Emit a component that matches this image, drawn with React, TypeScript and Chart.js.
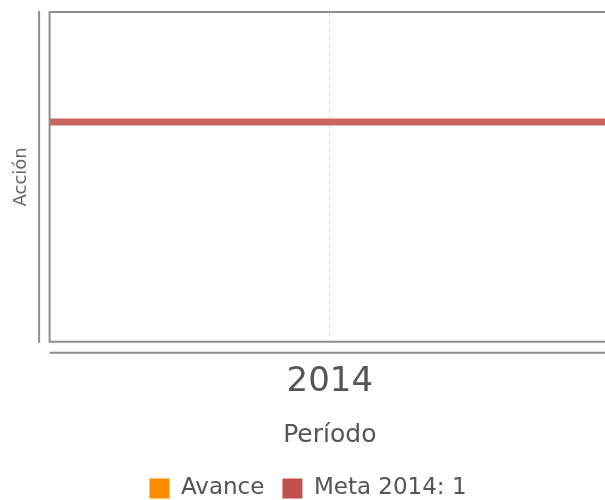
import React, { useEffect, useRef } from "react";
import { Chart, registerables } from "chart.js";

Chart.register(...registerables);

const periods = ["2014"];
const avanceValues = [0];
const metaValues = [1];
const seriesNames = ["Avance", "Meta 2014: 1"];
const yMin = 0;
const yMax = 1.5;

const FONT = "'DejaVu Sans', sans-serif";

const framePlugin = {
  id: "frame",
  afterDatasetsDraw(chart: any) {
    const { ctx, chartArea } = chart;
    const { left, top, right, bottom } = chartArea;
    ctx.save();
    ctx.strokeStyle = "#8e8e8e";
    ctx.lineWidth = 2;
    ctx.beginPath();
    // plot frame
    ctx.moveTo(right + 10, top);
    ctx.lineTo(left, top);
    ctx.lineTo(left, bottom);
    ctx.lineTo(right + 10, bottom);
    // detached axis lines
    ctx.moveTo(left - 10.5, top - 1);
    ctx.lineTo(left - 10.5, bottom + 1);
    ctx.moveTo(left, bottom + 11);
    ctx.lineTo(right + 10, bottom + 11);
    ctx.stroke();
    ctx.restore();
  },
};

export default function App() {
  const ref = useRef<HTMLCanvasElement | null>(null);
  useEffect(() => {
    if (!ref.current) return;
    const metaLine = metaValues.map((v) => [
      { x: 0, y: v },
      { x: 1, y: v },
    ])[0];
    const chart = new Chart(ref.current, {
      type: "bar",
      data: {
        labels: periods,
        datasets: [
          {
            label: seriesNames[0],
            data: avanceValues,
            backgroundColor: "#ff8c00",
            borderWidth: 0,
            xAxisID: "x",
            yAxisID: "y",
          },
          {
            type: "line",
            label: seriesNames[1],
            data: metaLine as any,
            borderColor: "#cc6461",
            backgroundColor: "#c0504d",
            borderWidth: 7,
            pointRadius: 0,
            xAxisID: "x2",
            yAxisID: "y",
          } as any,
        ],
      },
      options: {
        responsive: false,
        animation: false,
        layout: { padding: { left: 6, right: 5, top: 12, bottom: 0 } },
        plugins: {
          tooltip: { enabled: false },
          legend: {
            position: "bottom",
            labels: {
              font: { family: FONT, size: 23 },
              color: "#555",
              boxWidth: 20,
              boxHeight: 20,
              padding: 18,
              generateLabels: () => [
                { text: seriesNames[0], fillStyle: "#ff8c00", strokeStyle: "#ff8c00", fontColor: "#555", lineWidth: 0, datasetIndex: 0, hidden: false },
                { text: seriesNames[1], fillStyle: "#c0504d", strokeStyle: "#c0504d", fontColor: "#555", lineWidth: 0, datasetIndex: 1, hidden: false },
              ] as any,
            },
          },
        },
        scales: {
          x: {
            type: "category",
            offset: true,
            grid: {
              display: true,
              offset: false,
              drawTicks: false,
              color: "#d6d6d6",
              lineWidth: 1,
            },
            border: { display: false, dash: [4, 4] },
            ticks: {
              font: { family: FONT, size: 34 },
              color: "#555",
              padding: 20,
            },
            title: {
              display: true,
              text: "Período",
              font: { family: FONT, size: 25 },
              color: "#555",
              padding: { top: -2.5, bottom: 9 },
            },
          },
          x2: {
            type: "linear",
            display: false,
            offset: false,
            min: 0,
            max: 1,
          },
          y: {
            type: "linear",
            min: yMin,
            max: yMax,
            grid: { display: false, drawTicks: false },
            border: { display: false },
            ticks: { display: false },
            title: {
              display: true,
              text: "Acción",
              font: { family: FONT, size: 18 },
              color: "#666",
              padding: { top: 5, bottom: 17 },
            },
          },
        },
      },
      plugins: [framePlugin],
    });
    return () => chart.destroy();
  }, []);
  return (
    <div
      style={{
        position: "fixed",
        left: 0,
        top: 0,
        width: 605,
        height: 500,
        overflow: "hidden",
        background: "#fff",
      }}
    >
      <canvas ref={ref} width={615} height={510} style={{ display: "block" }} />
    </div>
  );
}
